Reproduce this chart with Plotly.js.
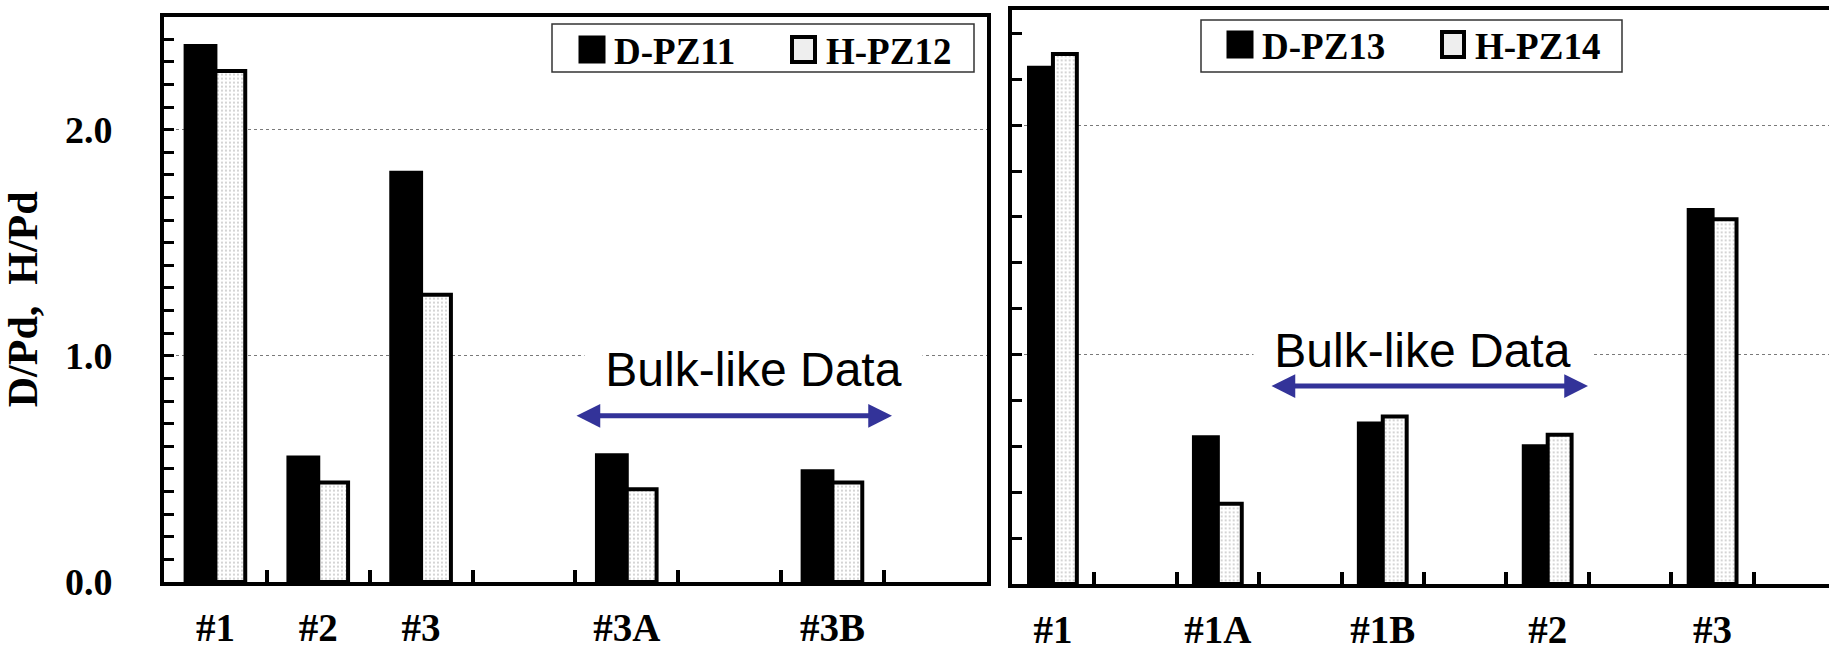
<!DOCTYPE html>
<html><head><meta charset="utf-8">
<script src="https://cdn.plot.ly/plotly-3.0.1.min.js"></script>
<style>html,body{margin:0;padding:0;background:#fff;} #chart{width:1829px;height:650px;}</style>
</head><body><div id="chart"></div>
<script>
// ---- data ----
const leftCategories = ['#1', '#2', '#3', '#3A', '#3B'];
const leftSlots = ['#1', '#2', '#3', ' ', '#3A', '  ', '#3B', '   '];
const leftD = [2.37, 0.55, 1.81, 0.56, 0.49];
const leftH = [2.26, 0.44, 1.27, 0.41, 0.44];
const leftSeries = ['D-PZ11', 'H-PZ12'];

const rightCategories = ['#1', '#1A', '#1B', '#2', '#3'];
const rightSlots = ['#1', ' ', '#1A', '  ', '#1B', '   ', '#2', '    ', '#3', '     '];
const rightD = [2.25, 0.64, 0.70, 0.60, 1.63];
const rightH = [2.31, 0.35, 0.73, 0.65, 1.59];
const rightSeries = ['D-PZ13', 'H-PZ14'];

const yTitle = 'D/Pd,\u00a0 H/Pd';
const noteText = 'Bulk-like Data';

// ---- layout helpers ----
const W = 1829, H = 650;
const X = p => p / W;
const Y = p => 1 - p / H;
const serif = {family: 'Liberation Serif, Times New Roman, serif', size: 38, color: '#000', weight: 'bold'};
const xFont = {family: 'Liberation Serif, Times New Roman, serif', size: 39, color: '#000', weight: 'bold'};
const titleFont = {family: 'Liberation Serif, Times New Roman, serif', size: 42, color: '#000', weight: 'bold'};
const legFont = {family: 'Liberation Serif, Times New Roman, serif', size: 37, color: '#000', weight: 'bold'};
const sans = {family: 'Liberation Sans, Arial, sans-serif', size: 48, color: '#000'};
const arrowColor = '#333399';

const blackStyle = {color: '#000', line: {color: '#000', width: 4}};
const dotStyle = {color: '#fff', line: {color: '#000', width: 4},
  pattern: {shape: '.', fgcolor: '#9a9a9a', bgcolor: '#fff', size: 4, solidity: 0.12}};

const traces = [
  {type: 'bar', x: leftCategories, y: leftD, name: leftSeries[0], xaxis: 'x', yaxis: 'y', marker: blackStyle, showlegend: false},
  {type: 'bar', x: leftCategories, y: leftH, name: leftSeries[1], xaxis: 'x', yaxis: 'y', marker: dotStyle, showlegend: false},
  {type: 'bar', x: rightCategories, y: rightD, name: rightSeries[0], xaxis: 'x2', yaxis: 'y2', marker: blackStyle, showlegend: false},
  {type: 'bar', x: rightCategories, y: rightH, name: rightSeries[1], xaxis: 'x2', yaxis: 'y2', marker: dotStyle, showlegend: false}
];

function xAxis(domain, slots, rangeEnd, anchor) {
  return {domain: domain, anchor: anchor, type: 'category', categoryorder: 'array', categoryarray: slots,
    range: [-0.5, rangeEnd], tickmode: 'linear', tick0: 0, dtick: 1, tickson: 'boundaries',
    ticks: 'inside', ticklen: 12, tickwidth: 4, tickcolor: '#000',
    showline: true, linewidth: 4, linecolor: '#000', mirror: true, showgrid: false, zeroline: false,
    tickfont: xFont, ticklabelstandoff: 8, fixedrange: true};
}
function yAxis(domain, anchor, minorStep, labels, mirror) {
  return {domain: domain, anchor: anchor, range: [0, 2.5], tickmode: 'linear', tick0: 0, dtick: 1,
    tickformat: '.1f', showticklabels: labels, ticks: 'inside', ticklen: 10, tickwidth: 3, tickcolor: '#000',
    minor: {tick0: 0, dtick: minorStep, ticks: 'inside', ticklen: 10, tickwidth: 3, tickcolor: '#000', showgrid: false},
    showline: true, linewidth: 4, linecolor: '#000', mirror: mirror,
    showgrid: true, gridcolor: '#7a7a7a', gridwidth: 1, griddash: 'dot', zeroline: false,
    tickfont: serif, ticklabelstandoff: 40, fixedrange: true};
}

const yLeft = yAxis([Y(582), Y(16.6)], 'x', 0.1, true, true);
yLeft.title = {text: yTitle, font: titleFont, standoff: 18};

const layout = {
  width: W, height: H, margin: {l: 0, r: 0, t: 0, b: 0}, paper_bgcolor: '#fff', plot_bgcolor: '#fff',
  barmode: 'group', bargap: 0.42, bargroupgap: 0, showlegend: false,
  xaxis: xAxis([X(164), X(986.7)], leftSlots, leftSlots.length - 0.5, 'y'),
  yaxis: yLeft,
  xaxis2: xAxis([X(1011.7), 1], rightSlots, -0.5 + (W - 1011.7) / 82.46, 'y2'),
  yaxis2: yAxis([Y(584), Y(10.4)], 'x2', 0.2, false, false),
  shapes: [
    // legend boxes
    {type: 'rect', xref: 'paper', yref: 'paper', x0: X(552), x1: X(974), y0: Y(72), y1: Y(24), line: {color: '#333', width: 1.5}, fillcolor: '#fff', layer: 'above'},
    {type: 'rect', xref: 'paper', yref: 'paper', x0: X(1201), x1: X(1622), y0: Y(72), y1: Y(20), line: {color: '#333', width: 1.5}, fillcolor: '#fff', layer: 'above'},
    // legend symbols
    {type: 'rect', xref: 'paper', yref: 'paper', x0: X(580), x1: X(604), y0: Y(62), y1: Y(37), line: {color: '#000', width: 3}, fillcolor: '#000', layer: 'above'},
    {type: 'rect', xref: 'paper', yref: 'paper', x0: X(792), x1: X(815), y0: Y(62), y1: Y(37), line: {color: '#000', width: 4}, fillcolor: '#eeeeee', layer: 'above'},
    {type: 'rect', xref: 'paper', yref: 'paper', x0: X(1228), x1: X(1252), y0: Y(57), y1: Y(32), line: {color: '#000', width: 3}, fillcolor: '#000', layer: 'above'},
    {type: 'rect', xref: 'paper', yref: 'paper', x0: X(1442), x1: X(1464), y0: Y(57), y1: Y(32), line: {color: '#000', width: 4}, fillcolor: '#eeeeee', layer: 'above'}
  ],
  annotations: [
    {xref: 'paper', yref: 'paper', x: X(612), y: Y(51), xanchor: 'left', yanchor: 'middle', text: leftSeries[0], font: legFont, showarrow: false},
    {xref: 'paper', yref: 'paper', x: X(824), y: Y(51), xanchor: 'left', yanchor: 'middle', text: leftSeries[1], font: legFont, showarrow: false},
    {xref: 'paper', yref: 'paper', x: X(1260), y: Y(46), xanchor: 'left', yanchor: 'middle', text: rightSeries[0], font: legFont, showarrow: false},
    {xref: 'paper', yref: 'paper', x: X(1473), y: Y(46), xanchor: 'left', yanchor: 'middle', text: rightSeries[1], font: legFont, showarrow: false},
    {xref: 'paper', yref: 'paper', x: X(753.5), y: Y(369), xanchor: 'center', yanchor: 'middle', text: noteText, font: sans, showarrow: false, bgcolor: '#fff', width: 335, height: 54},
    {xref: 'paper', yref: 'paper', x: X(1422), y: Y(350), xanchor: 'center', yanchor: 'middle', text: noteText, font: sans, showarrow: false, bgcolor: '#fff', width: 335, height: 54},
    {xref: 'paper', yref: 'paper', x: X(892), y: Y(415.8), text: '', showarrow: true, axref: 'pixel', ayref: 'pixel', ax: -(892 - 575), ay: 0,
      arrowhead: 2, startarrowhead: 2, arrowside: 'end+start', arrowwidth: 5, arrowsize: 0.95, startarrowsize: 0.95, arrowcolor: arrowColor},
    {xref: 'paper', yref: 'paper', x: X(1588), y: Y(386), text: '', showarrow: true, axref: 'pixel', ayref: 'pixel', ax: -(1588 - 1270), ay: 0,
      arrowhead: 2, startarrowhead: 2, arrowside: 'end+start', arrowwidth: 5, arrowsize: 0.95, startarrowsize: 0.95, arrowcolor: arrowColor}
  ]
};

Plotly.newPlot('chart', traces, layout, {displayModeBar: false, staticPlot: true});
</script></body></html>
